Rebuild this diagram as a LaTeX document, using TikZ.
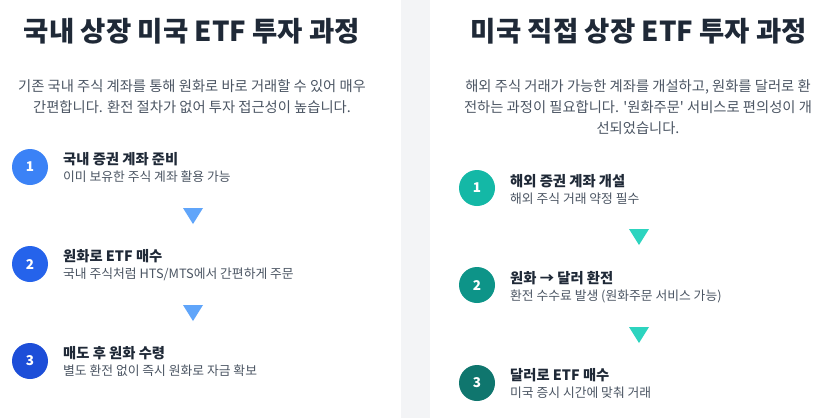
\documentclass[tikz,border=0pt]{standalone}
\usepackage{fontspec}
\setmainfont{Noto Sans CJK KR}
\usetikzlibrary{calc}
\definecolor{ink}{HTML}{1F2937}
\definecolor{muted}{HTML}{4B5563}
\definecolor{gap}{HTML}{F3F4F6}
\definecolor{blueA}{HTML}{3B82F6}
\definecolor{blueB}{HTML}{2563EB}
\definecolor{blueC}{HTML}{1D4ED8}
\definecolor{blueT}{HTML}{60A5FA}
\definecolor{tealA}{HTML}{14B8A6}
\definecolor{tealB}{HTML}{0D9488}
\definecolor{tealC}{HTML}{0F766E}
\definecolor{tealT}{HTML}{2DD4BF}

\begin{document}
\begin{tikzpicture}[x=1pt,y=-1pt,
    heading/.style={font=\fontsize{27.5}{31}\selectfont\bfseries, text=ink},
    blurb/.style={font=\fontsize{14.3}{21}\selectfont, text=muted, align=center},
    badge/.style={circle, minimum size=36pt, inner sep=0pt, text=white,
        font=\fontsize{13.5}{15}\selectfont\bfseries},
    steptitle/.style={anchor=west, inner sep=0pt, text=ink,
        font=\fontsize{14.3}{16}\selectfont\bfseries},
    stepnote/.style={anchor=west, inner sep=0pt, text=muted,
        font=\fontsize{12.8}{15}\selectfont}]
    % Cadre et bande grise
    \useasboundingbox (0,0) rectangle (829,418);
    \fill[white] (0,0) rectangle (829,418);
    \fill[gap] (401,0) rectangle (430,418);

    % Panneau gauche
    \node[heading] (ltitle) at (192,31) {국내 상장 미국 ETF 투자 과정};
    \node[blurb] (ltext) at (192,97) {기존 국내 주식 계좌를 통해 원화로 바로 거래할 수 있어 매우\\간편합니다. 환전 절차가 없어 투자 접근성이 높습니다.};

    \node[badge, fill=blueA] (l1) at (30,167) {1};
    \node[steptitle] (l1t) at (63,159) {국내 증권 계좌 준비};
    \node[stepnote] (l1n) at (63,177) {이미 보유한 주식 계좌 활용 가능};

    \node[badge, fill=blueB] (l2) at (30,264) {2};
    \node[steptitle] (l2t) at (63,256) {원화로 ETF 매수};
    \node[stepnote] (l2n) at (63,274) {국내 주식처럼 HTS/MTS에서 간편하게 주문};

    \node[badge, fill=blueC] (l3) at (30,361) {3};
    \node[steptitle] (l3t) at (63,353) {매도 후 원화 수령};
    \node[stepnote] (l3n) at (63,371) {별도 환전 없이 즉시 원화로 자금 확보};

    % Triangles gauches
    \coordinate (la) at (193,208);
    \coordinate (lb) at (193,305);
    \fill[blueT] ($(la)+(-10,0)$) -- ($(la)+(10,0)$) -- ($(la)+(0,16)$) -- cycle;
    \fill[blueT] ($(lb)+(-10,0)$) -- ($(lb)+(10,0)$) -- ($(lb)+(0,16)$) -- cycle;

    % Panneau droit
    \node[heading] (rtitle) at (639,31) {미국 직접 상장 ETF 투자 과정};
    \node[blurb] (rtext) at (638,107) {해외 주식 거래가 가능한 계좌를 개설하고, 원화를 달러로 환\\전하는 과정이 필요합니다. \textquotesingle 원화주문\textquotesingle{} 서비스로 편의성이 개\\선되었습니다.};

    \node[badge, fill=tealA] (r1) at (477,188) {1};
    \node[steptitle] (r1t) at (510,181) {해외 증권 계좌 개설};
    \node[stepnote] (r1n) at (510,199) {해외 주식 거래 약정 필수};

    \node[badge, fill=tealB] (r2) at (477,285) {2};
    \node[steptitle] (r2t) at (510,278) {원화 → 달러 환전};
    \node[stepnote] (r2n) at (510,296) {환전 수수료 발생 (원화주문 서비스 가능)};

    \node[badge, fill=tealC] (r3) at (477,383) {3};
    \node[steptitle] (r3t) at (510,375) {달러로 ETF 매수};
    \node[stepnote] (r3n) at (510,393) {미국 증시 시간에 맞춰 거래};

    % Triangles droits
    \coordinate (ra) at (639,229);
    \coordinate (rb) at (639,327);
    \fill[tealT] ($(ra)+(-10,0)$) -- ($(ra)+(10,0)$) -- ($(ra)+(0,16)$) -- cycle;
    \fill[tealT] ($(rb)+(-10,0)$) -- ($(rb)+(10,0)$) -- ($(rb)+(0,16)$) -- cycle;
\end{tikzpicture}
\end{document}
